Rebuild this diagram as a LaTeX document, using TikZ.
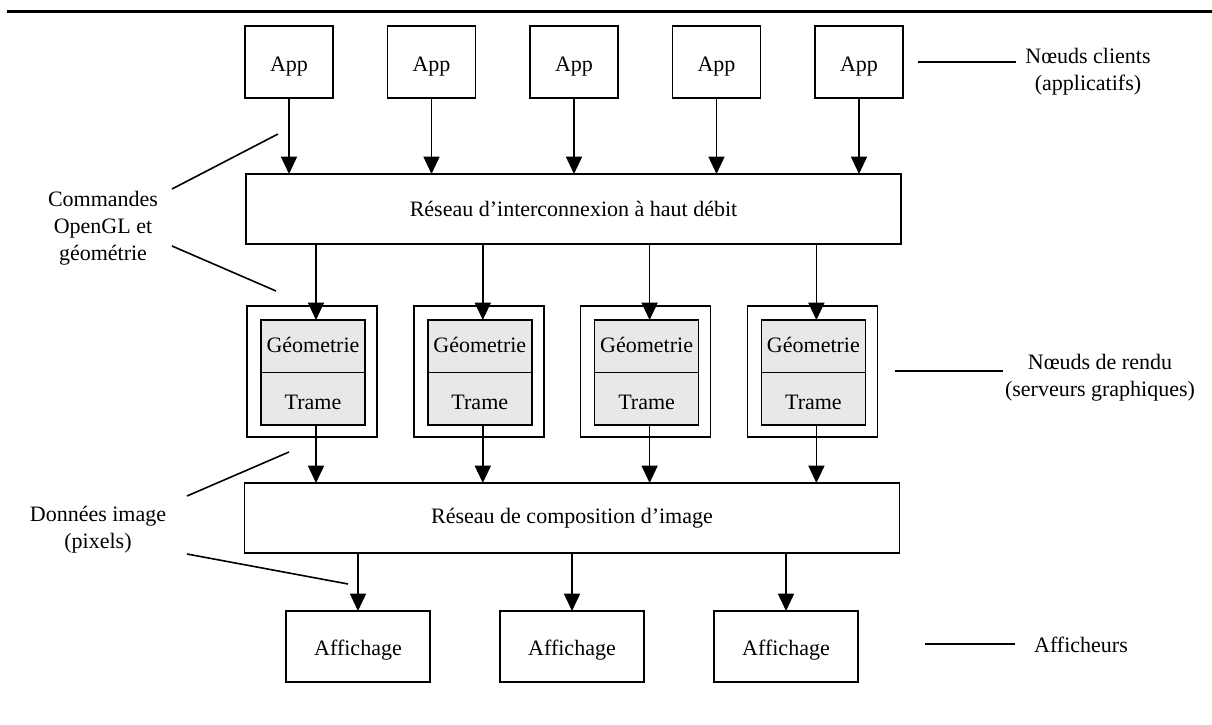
\documentclass[tikz,border=0pt]{standalone}
\usepackage{fontspec}
\setmainfont{Liberation Serif}
\usetikzlibrary{arrows.meta}
\definecolor{unitgray}{RGB}{232,232,232}
\begin{document}
\begin{tikzpicture}[x=0.75pt,y=-0.75pt,
  every node/.style={font=\fontsize{16.5}{20.25}\selectfont},
  frame/.style={draw, line width=1.2pt, inner sep=0pt, outer sep=0pt},
  appbox/.style={frame, minimum width=66pt, minimum height=54pt, text height=15pt, text depth=0pt},
  netbox/.style={frame, minimum width=491.25pt, minimum height=52.5pt},
  rendbox/.style={frame, minimum width=97.5pt, minimum height=98.25pt},
  unit/.style={frame, fill=unitgray, minimum width=78pt, minimum height=39.375pt, text depth=0pt},
  geomunit/.style={unit, text height=10pt},
  rastunit/.style={unit, text height=16pt},
  dispbox/.style={frame, minimum width=108pt, minimum height=53.25pt, text height=13.5pt, text depth=0pt},
  note/.style={align=center, inner sep=0pt},
  arr/.style={line width=1.2pt, -{Triangle[length=13pt,width=12pt]}},
  lead/.style={line width=1.2pt}]
\useasboundingbox (0,0) rectangle (1212,724);

% top rule
\draw[line width=2.6pt] (7,11.5) -- (1212,11.5);

% client application nodes
\foreach \i in {1,...,5}
  \node[appbox] (app\i) at ({289+142.5*(\i-1)},62) {App};

% high-speed interconnect
\node[netbox] (net) at (573.5,209) {Réseau d’interconnexion à haut débit};
\foreach \i in {1,...,5}
  \draw[arr] (app\i.south) -- (app\i.south |- net.north);

% render servers: geometry and raster units inside each frame
\foreach \i in {1,...,4} {
  \node[rendbox] (r\i) at ({312+166.8*(\i-1)},371.5) {};
  \node[geomunit, anchor=south] (g\i) at ([xshift=0.75pt,yshift=-0.75pt]r\i.center) {Géometrie};
  \node[rastunit, anchor=north] (t\i) at (g\i.south) {Trame};
}

% image compositing network
\node[netbox] (comp) at (572,518) {Réseau de composition d’image};
\foreach \i in {1,...,4} {
  \draw[arr] ([xshift=2.25pt]g\i.north |- net.south) -- ([xshift=2.25pt]g\i.north);
  \draw[arr] ([xshift=2.25pt]t\i.south) -- ([xshift=2.25pt]t\i.south |- comp.north);
}

% displays
\foreach \i in {1,...,3} {
  \node[dispbox] (d\i) at ({358+214*(\i-1)},646.5) {Affichage};
  \draw[arr] (d\i.north |- comp.south) -- (d\i.north);
}

% left annotations
\node[note] (cmd) at (103,228) {Commandes\\OpenGL et\\géométrie};
\coordinate (cmdA) at (172,189);
\coordinate (cmdB) at (278,134);
\coordinate (cmdC) at (172,246);
\coordinate (cmdD) at (276,291);
\draw[lead] (cmdA) -- (cmdB);
\draw[lead] (cmdC) -- (cmdD);

\node[note] (pix) at (98,529.5) {Données image\\(pixels)};
\coordinate (pixA) at (187,496);
\coordinate (pixB) at (289,452);
\coordinate (pixC) at (187,554);
\coordinate (pixD) at (348,584);
\draw[lead] (pixA) -- (pixB);
\draw[lead] (pixC) -- (pixD);

% right annotations
\node[note] (cli) at (1088,72) {Nœuds clients\\(applicatifs)};
\coordinate (cliA) at (918,62);
\draw[lead] (cliA) -- (1016,62);

\node[note] (ren) at (1100,378) {Nœuds de rendu\\(serveurs graphiques)};
\coordinate (renA) at (895,371);
\draw[lead] (renA) -- (1003,371);

\node[note] (aff) at (1081,645) {Afficheurs};
\coordinate (affA) at (925,644);
\draw[lead] (affA) -- (1015,644);
\end{tikzpicture}
\end{document}
